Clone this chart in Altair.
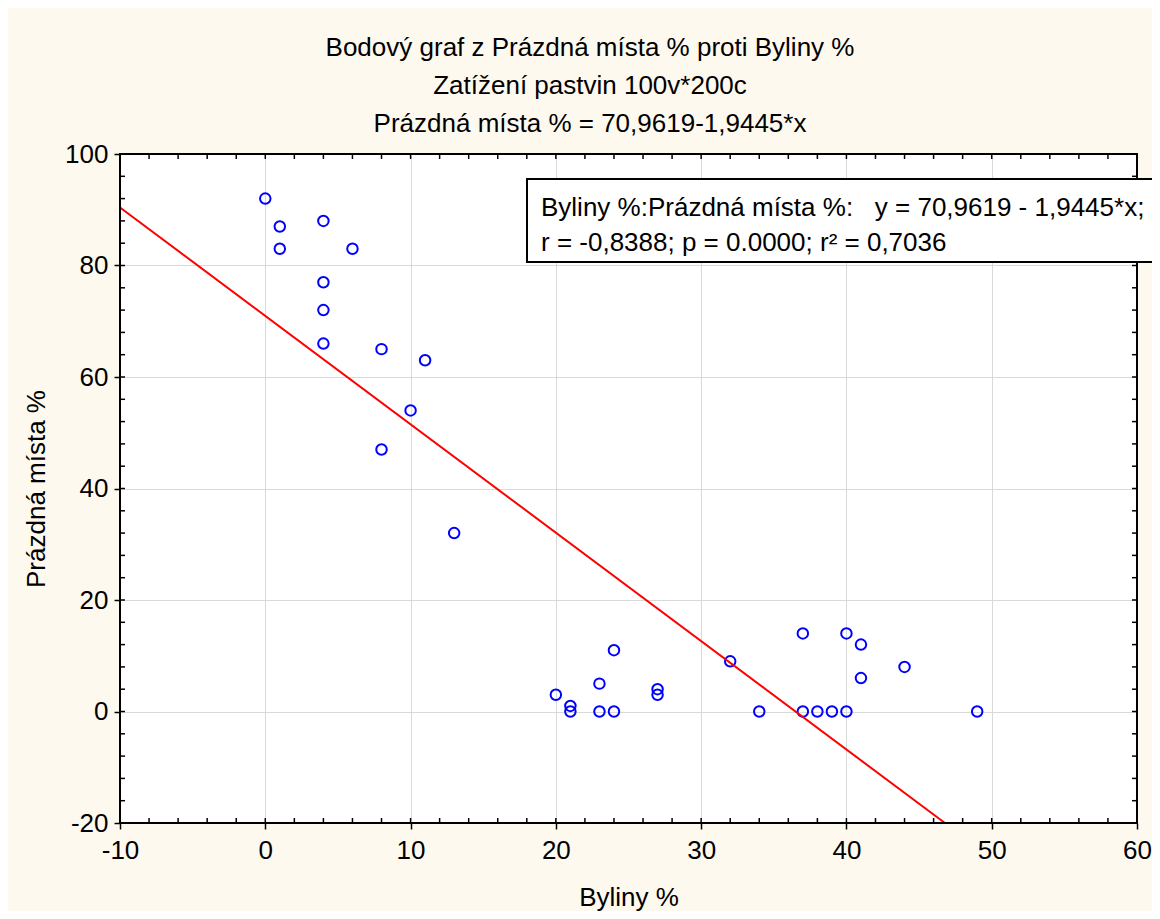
import altair as alt
import pandas as pd

# ---- data ----
byliny = [0, 1, 1, 4, 6, 4, 4, 4, 8, 11, 10, 8, 13,
          20, 21, 21, 23, 23, 24, 24, 27, 27, 32, 34, 37, 37, 38, 39, 40, 40, 41, 41, 44, 49]
prazdna = [92, 87, 83, 88, 83, 77, 72, 66, 65, 63, 54, 47, 32,
           3, 1, 0, 5, 0, 11, 0, 4, 3, 9, 0, 14, 0, 0, 0, 14, 0, 12, 6, 8, 0]
fit_x = [-10, 46.78]
fit_y = [90.41, -20]
x_ticks = [-10, 0, 10, 20, 30, 40, 50, 60]
y_ticks = [-20, 0, 20, 40, 60, 80, 100]
x_minor = list(range(-8, 60, 2))
y_minor = list(range(-16, 100, 4))
title_lines = ["Bodový graf z Prázdná místa % proti Byliny %",
               "Zatížení pastvin 100v*200c",
               "Prázdná místa % = 70,9619-1,9445*x"]
box_lines = ["Byliny %:Prázdná místa %:\u00a0\u00a0\u00a0y = 70,9619 - 1,9445*x;",
             "r = -0,8388; p = 0.0000; r² = 0,7036"]
x_title = "Byliny %"
y_title = "Prázdná místa %"

W, H = 1017, 669
FONT = "Liberation Sans"
FS = 26

pts = pd.DataFrame({"x": byliny, "y": prazdna})
fit = pd.DataFrame({"x": fit_x, "y": fit_y})
xm = pd.DataFrame({"x": x_minor})
ym = pd.DataFrame({"y": y_minor})
one = pd.DataFrame({"a": [0]})

xs = alt.Scale(domain=[-10, 60], nice=False, zero=False)
ys = alt.Scale(domain=[-20, 100], nice=False, zero=False)

common_axis = dict(
    labelFont=FONT, labelFontSize=FS, labelColor="black", labelFlush=False,
    titleFont=FONT, titleFontSize=FS, titleFontWeight="normal", titleColor="black",
    tickColor="black", tickWidth=1.5, tickSize=6, domain=False,
    grid=True, gridColor="#d9d9d9", gridWidth=1,
    labelExpr="'' + datum.value",
)

x_axis = alt.Axis(values=x_ticks, title=x_title, labelPadding=8,
                  titleY=82, titleBaseline="alphabetic", **common_axis)
y_axis = alt.Axis(values=y_ticks, title=y_title, labelPadding=6,
                  titleX=-84, titleY=H / 2, titleAngle=270, titleBaseline="middle",
                  titleAlign="center", **common_axis)

X = lambda f: alt.X(f + ":Q", scale=xs, axis=x_axis)
Y = lambda f: alt.Y(f + ":Q", scale=ys, axis=y_axis)

points = alt.Chart(pts).mark_point(shape="circle", filled=False, color="#0000ff",
                                   strokeWidth=2, size=110, opacity=1).encode(
    x=X("x"), y=Y("y"))

line = alt.Chart(fit).mark_line(color="#ff0000", strokeWidth=2).encode(
    x=X("x"), y=Y("y"))

frame = alt.Chart(one).mark_rect(fillOpacity=0, stroke="black", strokeWidth=2).encode(
    x=alt.value(0), x2=alt.value(W), y=alt.value(0), y2=alt.value(H))

tick_style = dict(color="black", strokeWidth=1.5)
t_bottom = alt.Chart(xm).mark_rule(**tick_style).encode(
    x=X("x"), y=alt.value(H), y2=alt.value(H - 5))
t_top = alt.Chart(xm).mark_rule(**tick_style).encode(
    x=X("x"), y=alt.value(0), y2=alt.value(5))
t_left = alt.Chart(ym).mark_rule(**tick_style).encode(
    y=Y("y"), x=alt.value(0), x2=alt.value(5))
t_right = alt.Chart(ym).mark_rule(**tick_style).encode(
    y=Y("y"), x=alt.value(W), x2=alt.value(W - 5))

box = alt.Chart(one).mark_rect(fill="white", stroke="black", strokeWidth=2).encode(
    x=alt.value(407), x2=alt.value(1060), y=alt.value(25), y2=alt.value(108))

def txt(s, x, y, align="left", baseline="middle"):
    return alt.Chart(pd.DataFrame({"t": [s]})).mark_text(
        font=FONT, fontSize=FS, color="black", align=align, baseline=baseline).encode(
        x=alt.value(x), y=alt.value(y), text="t:N")

box_t1 = txt(box_lines[0], 421, 54)
box_t2 = txt(box_lines[1], 421, 89)
ttl = [txt(s, 470, y, align="center", baseline="alphabetic")
       for s, y in zip(title_lines, [-98, -60, -22])]

chart = alt.layer(points, line, frame, t_bottom, t_top, t_left, t_right,
                  box, box_t1, box_t2, *ttl).properties(
    width=W, height=H,
    background="#fef9ef",
    padding={"left": 112, "top": 146, "right": 15, "bottom": 88},
    autosize=alt.AutoSizeParams(type="none"),
).configure_view(stroke="transparent", fill="white")

chart.save("out.html", embed_options={"renderer": "svg", "actions": False})
